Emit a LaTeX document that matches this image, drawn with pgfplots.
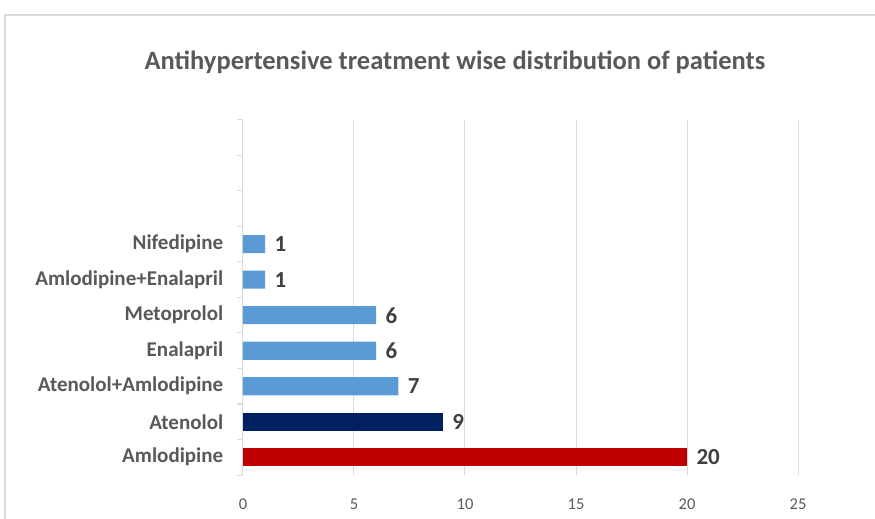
\documentclass[border=0pt]{standalone}
\usepackage{fontspec}
\setmainfont{Carlito}
\usepackage{pgfplots}
\pgfplotsset{compat=1.18}

\definecolor{barblue}{HTML}{5B9BD5}
\definecolor{barnavy}{HTML}{002060}
\definecolor{barred}{HTML}{C00000}
\definecolor{gridgray}{HTML}{D9D9D9}
\definecolor{labelgray}{HTML}{595959}
\definecolor{valgray}{HTML}{404040}

\begin{document}
\begin{tikzpicture}[x=1pt,y=1pt]
% page = 875 x 519 px, axis lower left at px (243,475)
\useasboundingbox (-243,-44) rectangle (632,475);
\fill[white] (-243,-44) rectangle (632,475);
\draw[gridgray, line width=1.5pt] (-238,-60) -- (-238,460) -- (700,460);

\begin{axis}[
  at={(0,0)}, anchor=south west,
  scale only axis, width=555pt, height=355pt,
  xbar, bar width=18pt, bar shift=0pt,
  xmin=0, xmax=25, ymin=-0.5, ymax=9.5,
  axis x line*=bottom, axis y line*=left,
  x axis line style={draw=none},
  y axis line style={gridgray, line width=1pt},
  xtick={0,5,...,25},
  xmajorgrids, grid style={gridgray, line width=1pt},
  major x tick style={draw=none},
  /pgf/number format/assume math mode=true,
  xticklabel style={font=\fontsize{16.5}{16.5}\selectfont, text=labelgray, yshift=-16pt},
  ytick={0,...,6},
  yticklabels={Amlodipine,Atenolol,Atenolol+Amlodipine,Enalapril,Metoprolol,Amlodipine+Enalapril,Nifedipine},
  major y tick style={draw=none},
  minor ytick={-0.5,0.5,...,9.5},
  minor tick length=6pt,
  tick align=outside,
  minor y tick style={gridgray, line width=1pt},
  yticklabel style={font=\bfseries\fontsize{21}{21}\selectfont, text=labelgray, xshift=-12pt},
  nodes near coords,
  nodes near coords style={font=\bfseries\fontsize{23}{23}\selectfont, text=valgray, anchor=west, xshift=6pt},
]
\addplot[fill=barblue, draw=none] coordinates {(7,2) (6,3) (6,4) (1,5) (1,6)};
\addplot[fill=barnavy, draw=none] coordinates {(9,1)};
\addplot[fill=barred, draw=none] coordinates {(20,0)};
\end{axis}

\node[font=\bfseries\fontsize{26.5}{26.5}\selectfont, text=labelgray] at (212,413) {Antihypertensive treatment wise distribution of patients};
\end{tikzpicture}
\end{document}
